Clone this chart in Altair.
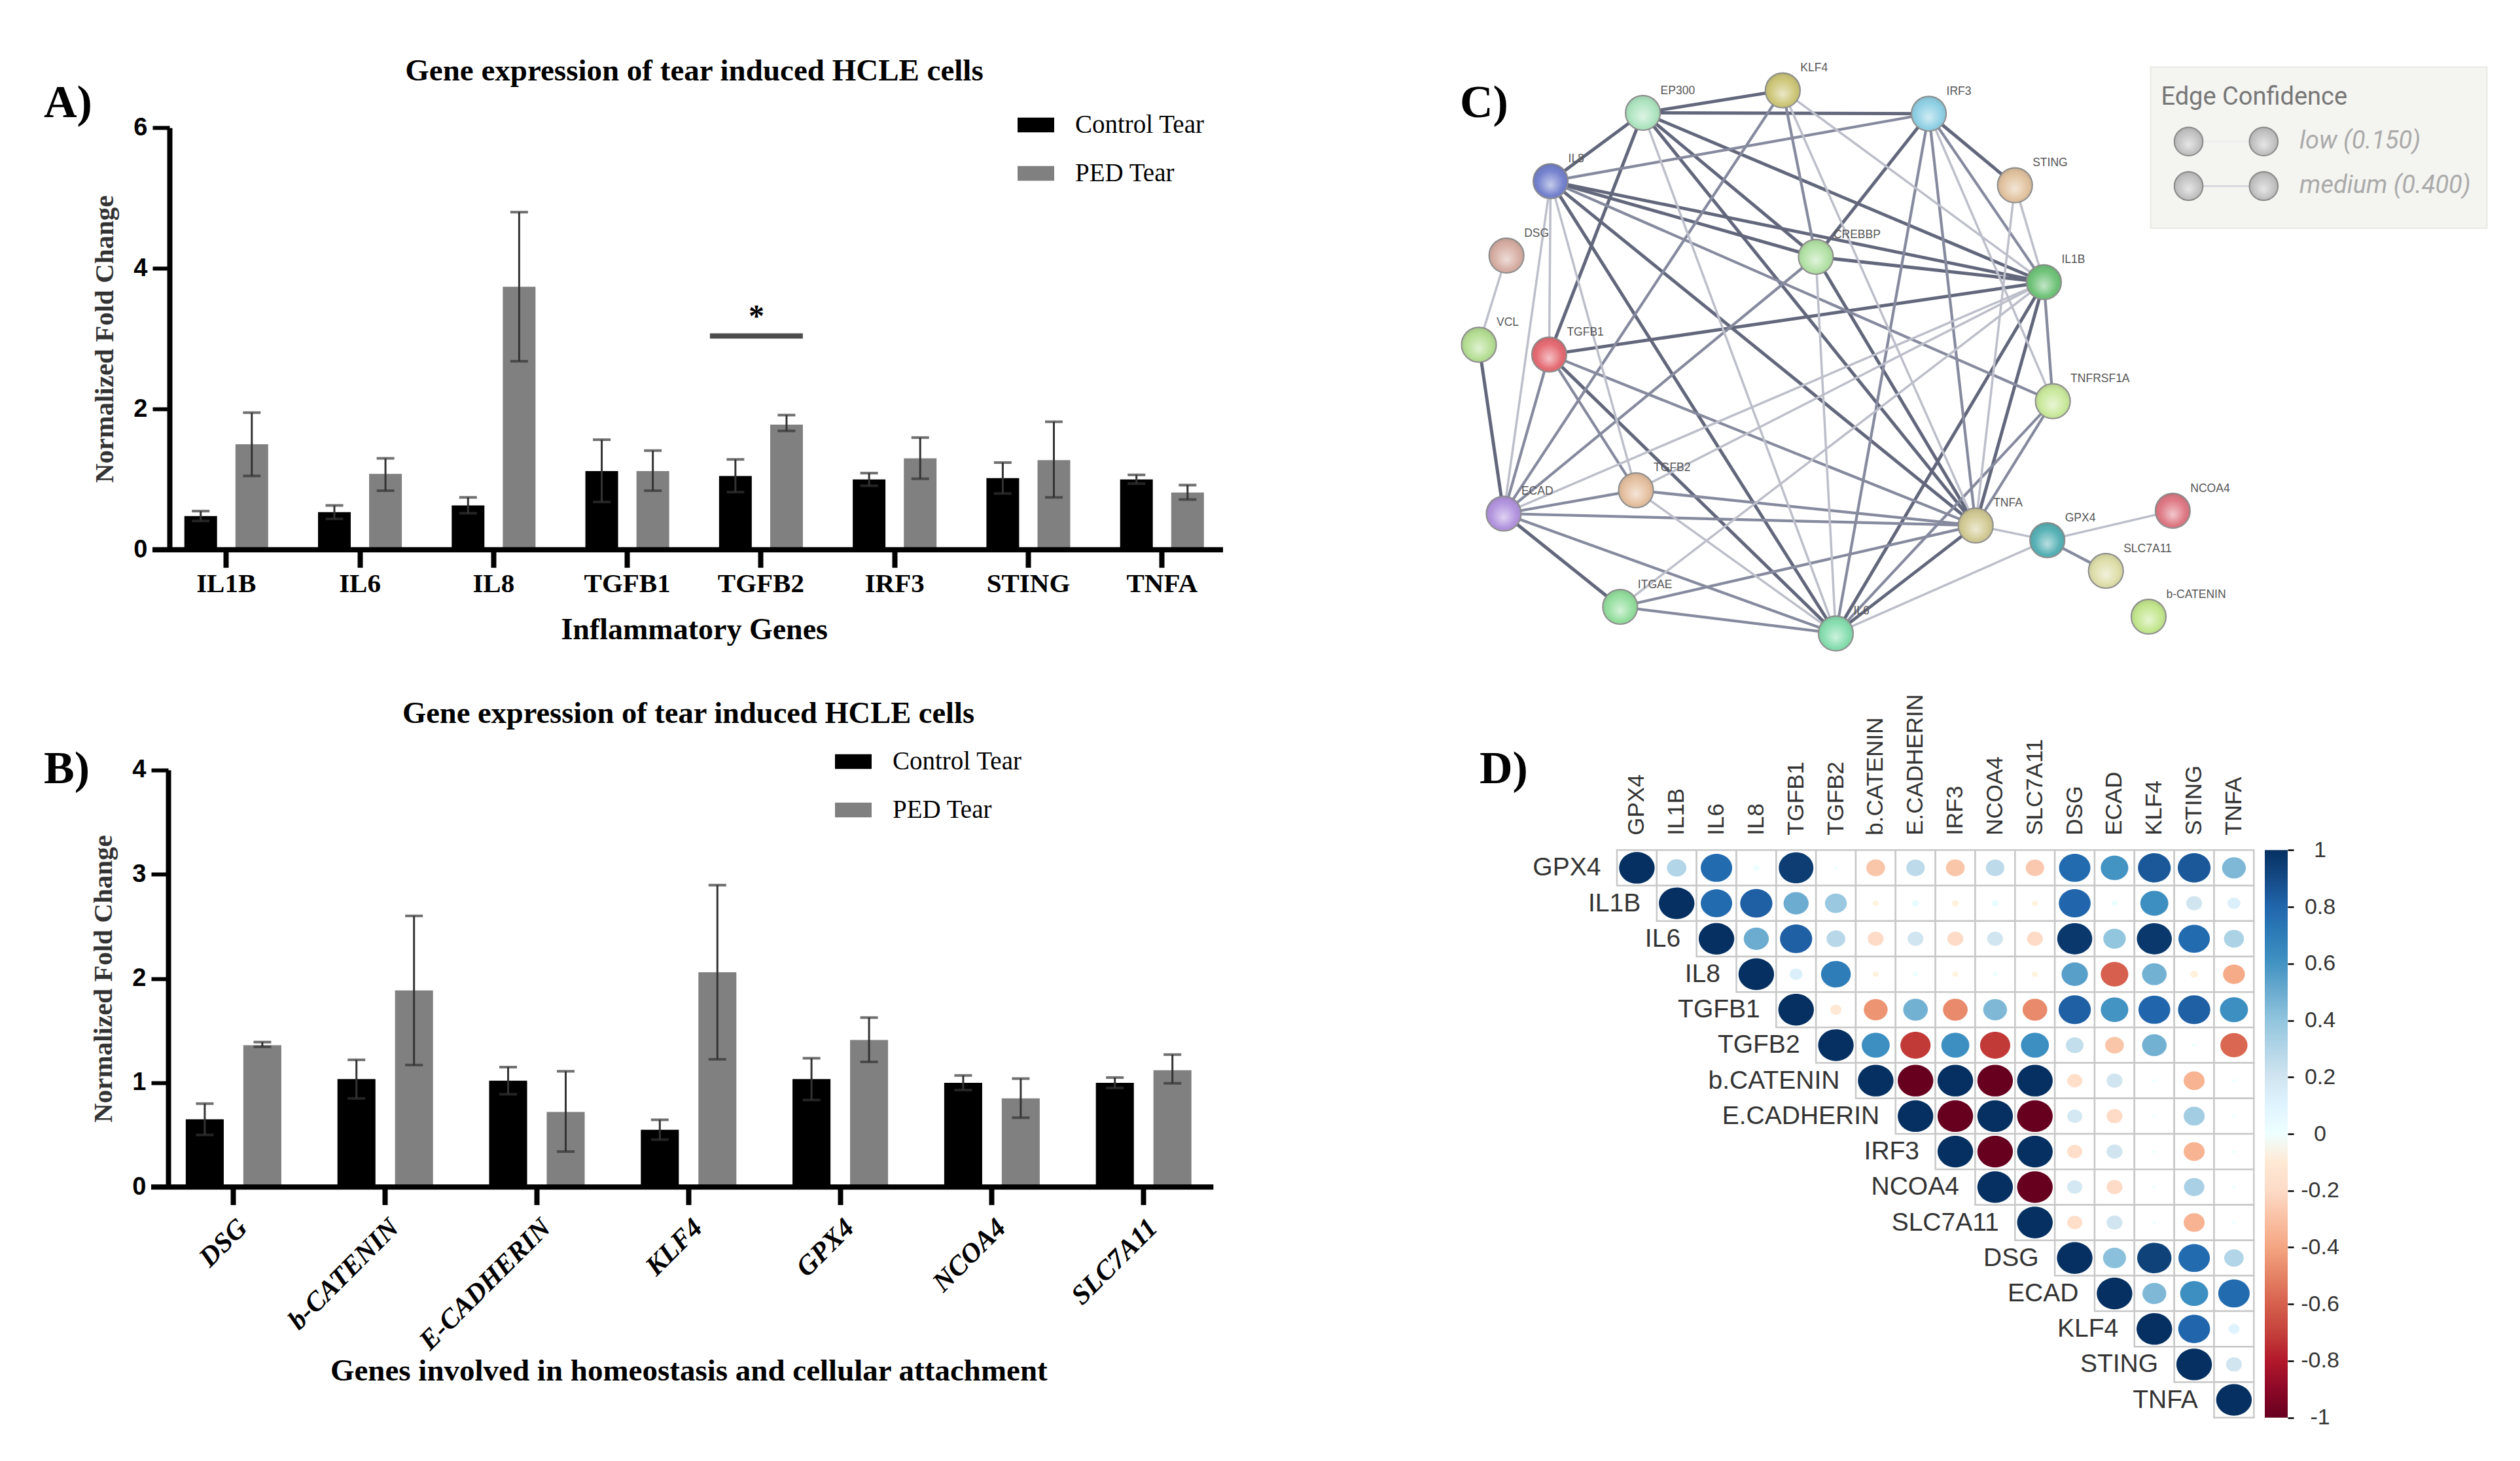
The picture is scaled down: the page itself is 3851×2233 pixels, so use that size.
import altair as alt
import pandas as pd

SERIF = "Liberation Serif"
SANS = "Liberation Sans"
series_names = ["Control Tear", "PED Tear"]

# Panel A
a_genes = ["IL1B", "IL6", "IL8", "TGFB1", "TGFB2", "IRF3", "STING", "TNFA"]
a_ctrl = [0.48, 0.535, 0.63, 1.12, 1.05, 1.0, 1.02, 1.0]
a_ctrl_hi = [0.55, 0.63, 0.745, 1.565, 1.285, 1.09, 1.24, 1.065]
a_ctrl_lo = [0.41, 0.44, 0.52, 0.68, 0.82, 0.91, 0.80, 0.94]
a_ped = [1.50, 1.08, 3.74, 1.12, 1.78, 1.30, 1.275, 0.815]
a_ped_hi = [1.95, 1.30, 4.80, 1.41, 1.915, 1.595, 1.82, 0.92]
a_ped_lo = [1.05, 0.84, 2.68, 0.84, 1.69, 1.01, 0.745, 0.715]
a_sig_gene = ["TGFB2"]
a_sig_level = [3.04]

# Panel B
b_genes = ["DSG", "b-CATENIN", "E-CADHERIN", "KLF4", "GPX4", "NCOA4", "SLC7A11"]
b_ctrl = [0.65, 1.035, 1.02, 0.55, 1.035, 1.0, 1.0]
b_ctrl_hi = [0.80, 1.22, 1.15, 0.645, 1.235, 1.07, 1.05]
b_ctrl_lo = [0.50, 0.85, 0.89, 0.455, 0.835, 0.93, 0.95]
b_ped = [1.36, 1.885, 0.72, 2.06, 1.41, 0.85, 1.12]
b_ped_hi = [1.39, 2.60, 1.11, 2.895, 1.625, 1.04, 1.27]
b_ped_lo = [1.345, 1.17, 0.34, 1.225, 1.20, 0.665, 0.995]

# Panel C (network, in layout units)
node_names = ["EP300", "KLF4", "IRF3", "STING", "IL8", "CREBBP", "DSG", "IL1B", "VCL", "TGFB1",
              "TNFRSF1A", "ECAD", "TGFB2", "TNFA", "GPX4", "NCOA4", "SLC7A11", "b-CATENIN", "ITGAE", "IL6"]
node_x = [295, 498, 710, 835, 161, 546, 97, 877, 57, 159, 890, 93, 285, 778, 882, 1064, 967, 1029, 262, 575]
node_y = [180, 125, 182, 357, 347, 532, 529, 594, 747, 771, 885, 1160, 1103, 1189, 1225, 1153, 1300, 1412, 1388, 1453]
node_colors = ["#9fe0b5", "#c4bc60", "#7cc8e0", "#dcb88e", "#5b6bc5", "#a5dc95", "#cf9f92", "#55b860", "#a8d880",
               "#e0505a", "#c0e58a", "#a480d8", "#e0b48e", "#c9c080", "#38a3a8", "#d8606e", "#d8d89a", "#b8e27a",
               "#80d88c", "#70d8a0"]
edges_thick = ["EP300-KLF4", "EP300-IRF3", "EP300-TGFB1", "EP300-CREBBP", "EP300-IL1B", "EP300-TNFA", "IRF3-CREBBP",
               "IRF3-STING", "IL8-CREBBP", "IL8-IL1B", "IL8-TNFA", "IL8-IL6", "CREBBP-IL1B", "CREBBP-TNFA",
               "IL1B-TGFB1", "IL1B-TNFA", "IL1B-IL6", "TGFB1-IL6", "VCL-ECAD", "ECAD-ITGAE", "TNFA-IL6", "EP300-IL8"]
edges_medium = ["KLF4-CREBBP", "KLF4-ECAD", "IRF3-IL1B", "IRF3-TNFA", "IRF3-IL6", "IL8-TNFRSF1A", "CREBBP-ECAD",
                "IL1B-TNFRSF1A", "TGFB1-ECAD", "TGFB1-TGFB2", "TGFB1-TNFA", "TNFRSF1A-TNFA", "TNFRSF1A-IL6",
                "ECAD-TNFA", "TNFA-ITGAE", "GPX4-SLC7A11", "IRF3-IL8", "ECAD-TGFB2", "ECAD-IL6", "TGFB2-TNFA",
                "ITGAE-IL6"]
edges_thin = ["EP300-IL6", "KLF4-TNFA", "KLF4-IL1B", "IRF3-TNFRSF1A", "STING-IL1B", "STING-TNFA", "IL8-TGFB2",
              "IL8-ECAD", "IL8-TGFB1", "CREBBP-IL6", "IL1B-ECAD", "IL1B-TGFB2", "IL1B-ITGAE", "VCL-DSG", "TGFB2-IL6",
              "TNFA-GPX4", "GPX4-NCOA4", "GPX4-IL6"]
conf_levels = ["high", "mid", "thin"]
legend_title = ["Edge Confidence"]
legend_x = [1087, 1196]
legend_y = [250, 359]
legend_text = ["low (0.150)", "medium (0.400)"]
legend_box = [1032, 1520, 68, 462]

# Panel D (upper triangle by rows)
corr_vars = ["GPX4", "IL1B", "IL6", "IL8", "TGFB1", "TGFB2", "b.CATENIN", "E.CADHERIN", "IRF3", "NCOA4", "SLC7A11",
             "DSG", "ECAD", "KLF4", "STING", "TNFA"]
corr_rows = [
    [1, .30, .78, .03, .95, .01, -.28, .27, -.28, .27, -.27, .78, .6, .85, .85, .45],
    [1, .78, .82, .5, .38, -.03, .04, -.04, .04, -.03, .8, .03, .62, .2, .13],
    [1, .5, .82, .28, -.2, .2, -.2, .2, -.2, .97, .4, .97, .78, .32],
    [1, .13, .7, -.03, .02, -.03, .02, -.03, .55, -.6, .48, -.05, -.38],
    [1, -.1, -.45, .48, -.48, .45, -.48, .82, .6, .8, .82, .62],
    [1, .62, -.72, .62, -.72, .62, .25, -.28, .48, .01, -.58],
    [1, -1, 1, -1, 1, -.18, .2, .01, -.35, .01],
    [1, -1, 1, -1, .18, -.2, .01, .35, .01],
    [1, -1, 1, -.18, .2, .01, -.35, .01],
    [1, -1, .18, -.2, .01, .33, .01],
    [1, -.18, .2, .01, -.35, .01],
    [1, .42, .93, .78, .3],
    [1, .45, .62, .78],
    [1, .8, .1],
    [1, .2],
    [1],
]
rdbu = ["#67001F", "#B2182B", "#D6604D", "#F4A582", "#FDDBC7", "#FFFFFF", "#D1E5F0", "#92C5DE", "#4393C3", "#2166AC", "#053061"]
rdbu_stops = [-1, -.8, -.6, -.4, -.2, 0, .2, .4, .6, .8, 1]

W, H = 3830, 2215


def text(s, x, y, size, font=SERIF, weight="normal", color="black", **kw):
    return alt.Chart().mark_text(font=font, fontSize=size, fontWeight=weight, color=color, **kw).encode(
        x=alt.value(x), y=alt.value(y), text=alt.value(s))


def bar_panel(genes, ctrl, ctrl_lo, ctrl_hi, ped, ped_lo, ped_hi, xr, yr, ymax, ytick, pad, inner,
              legx, legy, yaxis_x, line_x, axis_kw):
    rows = []
    for i, g in enumerate(genes):
        rows.append(dict(gene=g, series=series_names[0], v=ctrl[i], lo=ctrl_lo[i], hi=ctrl_hi[i]))
        rows.append(dict(gene=g, series=series_names[1], v=ped[i], lo=ped_lo[i], hi=ped_hi[i]))
    df = pd.DataFrame(rows)
    xaxis = alt.Axis(orient="bottom", offset=yr[0] - H, domain=False, tickWidth=8, tickSize=27,
                     tickColor="black", labelColor="black", titleColor="black",
                     labelFont=SERIF, labelFontWeight="bold", titleFont=SERIF, titleFontWeight="bold",
                     labelLimit=800, **axis_kw)
    xs = alt.X("gene:N", sort=genes, axis=xaxis,
               scale=alt.Scale(domain=genes, range=xr, paddingInner=pad, paddingOuter=pad / 2))
    xo = alt.XOffset("series:N", sort=series_names,
                     scale=alt.Scale(domain=series_names, paddingInner=inner, paddingOuter=0))
    yaxis = alt.Axis(orient="left", offset=-yaxis_x, values=ytick, format="d", grid=False, domainWidth=8,
                     tickWidth=6, tickSize=26, domainColor="black", tickColor="black", labelColor="black",
                     labelFont=SANS, labelFontWeight="bold", labelFontSize=38, labelPadding=8,
                     title="Normalized Fold Change", titleFont=SERIF, titleFontWeight="bold", titleFontSize=41,
                     titleColor="#333333", titlePadding=22)
    yscale = alt.Scale(domain=[0, ymax], range=yr, nice=False)
    base = alt.Chart(df)
    bars = base.mark_bar().encode(
        x=xs, xOffset=xo, y=alt.Y("v:Q", scale=yscale, axis=yaxis),
        color=alt.Color("series:N", sort=series_names,
                        scale=alt.Scale(domain=series_names, range=["#000000", "#808080"]),
                        legend=alt.Legend(orient="none", legendX=legx, legendY=legy, title=None,
                                          symbolType="M-1,-0.4H1V0.4H-1Z", symbolSize=3136, symbolStrokeWidth=0,
                                          labelFont=SERIF, labelFontSize=39, labelColor="black", labelOffset=32,
                                          rowPadding=26, labelLimit=600)))
    ylo = alt.Y("lo:Q", scale=yscale, axis=yaxis)
    yhi = alt.Y("hi:Q", scale=yscale, axis=yaxis)
    err = base.mark_rule(color="#333333", strokeWidth=3).encode(x=xs, xOffset=xo, y=ylo, y2="hi:Q")
    cap_lo = base.mark_tick(orient="horizontal", size=27, thickness=4, color="#333333").encode(x=xs, xOffset=xo, y=ylo)
    cap_hi = base.mark_tick(orient="horizontal", size=27, thickness=4, color="#333333").encode(x=xs, xOffset=xo, y=yhi)
    line = alt.Chart().mark_rule(color="black", strokeWidth=8).encode(
        x=alt.value(line_x[0]), x2=alt.value(line_x[1]), y=alt.value(yr[0]))
    return bars, err, cap_lo, cap_hi, line, xs, yscale, yaxis


# ---------- A
a_bars, a_err, a_lo, a_hi, a_line, a_xs, a_ys, a_ya = bar_panel(
    a_genes, a_ctrl, a_ctrl_lo, a_ctrl_hi, a_ped, a_ped_lo, a_ped_hi,
    [235.6, 1869.9], [832.3, 187.2], 6, [0, 2, 4, 6], 0.373, 0.36, 1547, 155, 251, (225, 1861),
    dict(title="Inflammatory Genes", labelFontSize=41, labelAngle=0, labelPadding=5, titleFontSize=46, titlePadding=28))
sig_df = pd.DataFrame({"gene": a_sig_gene, "v": a_sig_level})
a_sig = alt.Chart(sig_df).mark_tick(orient="horizontal", size=142, thickness=8, color="black", xOffset=-7).encode(
    x=a_xs, y=alt.Y("v:Q", scale=a_ys, axis=a_ya))
a_star = alt.Chart(sig_df).mark_text(text="*", font=SERIF, fontWeight="bold", fontSize=48, dx=-7, dy=-28, color="black").encode(
    x=a_xs, y=alt.Y("v:Q", scale=a_ys, axis=a_ya))
panel_a = alt.layer(a_bars, a_err, a_lo, a_hi, a_sig, a_star, a_line)

# ---------- B
b_bars, b_err, b_lo, b_hi, b_line, *_ = bar_panel(
    b_genes, b_ctrl, b_ctrl_lo, b_ctrl_hi, b_ped, b_ped_lo, b_ped_hi,
    [233, 1855.6], [1806.3, 1168.7], 4, [0, 1, 2, 3, 4], 0.37, 0.34, 1268, 1128, 249, (223, 1846.3),
    dict(title="Genes involved in homeostasis and cellular attachment", labelFontSize=42, labelFontStyle="italic",
         labelAngle=315, labelAlign="right", labelBaseline="top", labelPadding=14, titleFontSize=47, titlePadding=58))
panel_b = alt.layer(b_bars, b_err, b_lo, b_hi, b_line)

# ---------- C
pos = {n: (x, y) for n, x, y in zip(node_names, node_x, node_y)}
edge_rows = []
for lvl, lst in zip(conf_levels, [edges_thick, edges_medium, edges_thin]):
    for e in lst:
        a, b = e.split("-")
        edge_rows.append(dict(x=pos[a][0], y=pos[a][1], x2=pos[b][0], y2=pos[b][1], lvl=lvl))
edge_df = pd.DataFrame(edge_rows)
node_df = pd.DataFrame({"name": node_names, "x": node_x, "y": node_y})
cx = alt.X("x:Q", axis=None, scale=alt.Scale(domain=[0, 1568], range=[2192, 3843], nice=False, zero=False))
cy = alt.Y("y:Q", axis=None, scale=alt.Scale(domain=[0, 1568], range=[52, 1032], nice=False, zero=False))
c_edges = alt.Chart(edge_df).mark_rule().encode(
    x=cx, y=cy, x2="x2:Q", y2="y2:Q",
    color=alt.Color("lvl:N", legend=None, scale=alt.Scale(domain=conf_levels, range=["#62677c", "#868a9e", "#bcbeca"])),
    strokeWidth=alt.StrokeWidth("lvl:N", legend=None, scale=alt.Scale(domain=conf_levels, range=[5, 3.5, 2])))
c_nodes = alt.Chart(node_df).mark_point(filled=True, opacity=1, size=2827, stroke="#8a8a8a", strokeWidth=2).encode(
    x=cx, y=cy,
    fill=alt.Fill("name:N", legend=None, scale=alt.Scale(domain=node_names, range=node_colors)))
gloss = alt.RadialGradient(gradient="radial", x1=0.5, y1=0.62, x2=0.5, y2=0.5, r1=0, r2=0.62, stops=[
    alt.GradientStop(color="rgba(255,255,255,0.65)", offset=0),
    alt.GradientStop(color="rgba(255,255,255,0.15)", offset=0.6),
    alt.GradientStop(color="rgba(50,50,50,0.35)", offset=1)])
c_gloss = alt.Chart(node_df).mark_circle(size=2827, opacity=1, color=gloss).encode(x=cx, y=cy)
c_names = alt.Chart(node_df).mark_text(font=SANS, fontSize=17.5, color="#555555", align="left", dx=27, dy=-34).encode(
    x=cx, y=cy, text="name:N")
box_df = pd.DataFrame({"x": [legend_box[0]], "x2": [legend_box[1]], "y": [legend_box[2]], "y2": [legend_box[3]]})
c_box = alt.Chart(box_df).mark_rect(fill="#f4f4f1", stroke="#e8e8e5", strokeWidth=2).encode(x=cx, x2="x2:Q", y=cy, y2="y2:Q")
leg_title = alt.Chart(pd.DataFrame({"x": [1047], "y": [142], "t": legend_title})).mark_text(
    font="Roboto", fontSize=38, color="#777777", align="left").encode(x=cx, y=cy, text="t:N")
leg_nodes = pd.DataFrame([dict(x=x, y=y) for x in legend_x for y in legend_y])
leg_pts = alt.Chart(leg_nodes).mark_circle(size=1900, opacity=1, color=gloss, stroke="#8a8a8a", strokeWidth=2).encode(x=cx, y=cy)
leg_under = alt.Chart(leg_nodes).mark_circle(size=1900, opacity=1, color="#b8b8b8").encode(x=cx, y=cy)
leg_lines = alt.Chart(pd.DataFrame({"x": [legend_x[0]] * 2, "x2": [legend_x[1]] * 2, "y": legend_y,
                                    "c": ["#eeeeee", "#d8d8de"]})).mark_rule(strokeWidth=3).encode(
    x=cx, x2="x2:Q", y=cy, color=alt.Color("c:N", scale=None, legend=None))
leg_txt = alt.Chart(pd.DataFrame({"x": [1248] * 2, "y": legend_y, "t": legend_text})).mark_text(
    font="Roboto", fontSize=38, fontStyle="italic", color="#aaaaaa", align="left").encode(x=cx, y=cy, text="t:N")
panel_c = alt.layer(c_box, leg_lines, leg_under, leg_pts, leg_title, leg_txt, c_edges, c_nodes, c_gloss, c_names).resolve_scale(
    color="independent")

# ---------- D
rows = []
for i, r in enumerate(corr_rows):
    for j, v in enumerate(r):
        rows.append(dict(row=corr_vars[i], col=corr_vars[i + j], v=v, a=abs(v)))
corr_df = pd.DataFrame(rows)
grid_x = [2463, 3436.3]
grid_y = [1291.3, 2158.7]
dx_top = alt.Axis(orient="top", offset=-grid_y[0], domain=False, ticks=False, labelAngle=270, labelAlign="left",
                  labelBaseline="middle", labelPadding=23, labelFont=SANS, labelFontSize=35, labelColor="#333333",
                  labelLimit=600, title=None)
dx = alt.X("col:N", sort=corr_vars, axis=dx_top,
           scale=alt.Scale(domain=corr_vars, range=grid_x, paddingInner=0, paddingOuter=0))
dy = alt.Y("row:N", sort=corr_vars, axis=None,
           scale=alt.Scale(domain=corr_vars, range=grid_y, paddingInner=0, paddingOuter=0))
d_cells = alt.Chart(corr_df).mark_rect(fill="white", stroke="#c8c8c8", strokeWidth=2.5).encode(x=dx, y=dy)
d_dots = alt.Chart(corr_df).mark_point(filled=True, opacity=1, shape="M-1,0A1,0.89,0,1,1,1,0A1,0.89,0,1,1,-1,0Z", strokeWidth=0).encode(
    x=dx, y=dy,
    size=alt.Size("a:Q", legend=None, scale=alt.Scale(domain=[0, 1], range=[0, 2950])),
    color=alt.Color("v:Q", scale=alt.Scale(domain=rdbu_stops, range=rdbu, type="linear"),
                    legend=alt.Legend(orient="none", legendX=3453, legendY=grid_y[0], title=None, direction="vertical",
                                      gradientLength=867.4, gradientThickness=35, values=rdbu_stops,
                                      labelExpr="''", gradientStrokeWidth=0)))
diag = corr_df[corr_df.row == corr_df.col]
d_rowlabels = alt.Chart(diag).mark_text(font=SANS, fontSize=39, color="#333333", align="right", dx=-55).encode(
    x=dx, y=dy, text="row:N")
panel_d = alt.layer(d_cells, d_dots, d_rowlabels)

bar_ticks = alt.Chart(pd.DataFrame({"s": rdbu_stops})).mark_tick(opacity=0).encode(
    y=alt.Y("s:Q", scale=alt.Scale(domain=[-1, 1], range=[grid_y[1], grid_y[0]], nice=False),
            axis=alt.Axis(orient="right", offset=3488 - W, values=rdbu_stops, domain=False, grid=False, tickSize=9,
                          tickWidth=2.5, tickColor="black", labelExpr="''+datum.value", labelAlign="center",
                          labelPadding=40, labelFont=SANS, labelFontSize=34, labelColor="#333333",
                          labelOverlap=False, title=None)))

# ---------- titles, letters
titles = [
    text("Gene expression of tear induced HCLE cells", 1053, 101, 47, weight="bold"),
    text("Gene expression of tear induced HCLE cells", 1044, 1083, 46.5, weight="bold"),
    text("A)", 59, 150, 70, weight="bold", align="left"),
    text("B)", 59, 1168, 70, weight="bold", align="left"),
    text("C)", 2223, 150, 70, weight="bold", align="left"),
    text("D)", 2253, 1168, 70, weight="bold", align="left"),
]

chart = alt.layer(panel_a, panel_b, panel_c, panel_d, bar_ticks, *titles).resolve_scale(
    x="independent", y="independent", color="independent", size="independent", xOffset="independent"
).properties(width=W, height=H, padding=0, autosize=alt.AutoSizeParams(type="none"), background="white"
).configure_view(stroke=None)

chart.save("out.html", embed_options={"renderer": "svg", "actions": False})
